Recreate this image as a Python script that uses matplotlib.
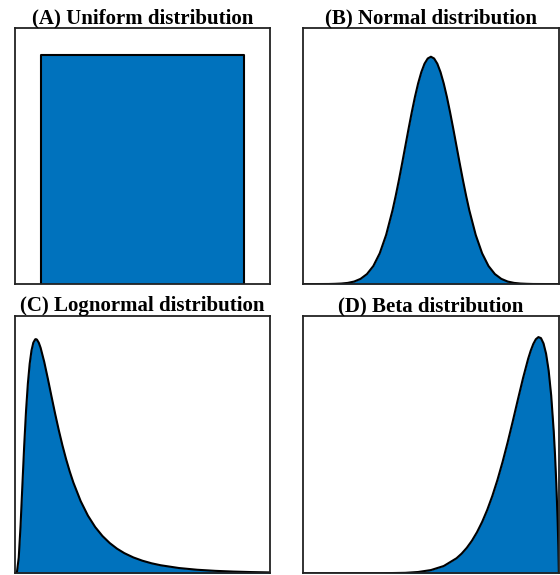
import matplotlib
matplotlib.use("Agg")
import matplotlib.pyplot as plt

# (A) uniform density on [0, 1]
uniform_x = [0, 0, 1, 1]
uniform_y = [0, 1, 1, 0]

# (B) normal density
normal_x = [-5.0, -4.5, -4.0, -3.75, -3.5, -3.25, -3.0, -2.75, -2.5, -2.25, -2.0,
            -1.75, -1.5, -1.375, -1.25, -1.125, -1.0, -0.875, -0.75, -0.625, -0.5,
            -0.375, -0.25, -0.125, 0.0, 0.125, 0.25, 0.375, 0.5, 0.625, 0.75, 0.875,
            1.0, 1.125, 1.25, 1.375, 1.5, 1.75, 2.0, 2.25, 2.5, 2.75, 3.0, 3.25, 3.5,
            3.75, 4.0, 4.5, 5.0]
normal_y = [0.0, 0.0, 0.0001, 0.0004, 0.0009, 0.0020, 0.0044, 0.0091, 0.0175, 0.0317,
            0.0540, 0.0863, 0.1295, 0.1550, 0.1826, 0.2119, 0.2420, 0.2721, 0.3011,
            0.3282, 0.3521, 0.3719, 0.3867, 0.3958, 0.3989, 0.3958, 0.3867, 0.3719,
            0.3521, 0.3282, 0.3011, 0.2721, 0.2420, 0.2119, 0.1826, 0.1550, 0.1295,
            0.0863, 0.0540, 0.0317, 0.0175, 0.0091, 0.0044, 0.0020, 0.0009, 0.0004,
            0.0001, 0.0, 0.0]

# (C) lognormal density
lognormal_x = [0.0, 0.05, 0.1, 0.15, 0.2, 0.25, 0.3, 0.35, 0.4, 0.45, 0.5, 0.55, 0.57,
               0.6, 0.65, 0.7, 0.8, 0.9, 1.0, 1.1, 1.2, 1.3, 1.4, 1.5, 1.6, 1.8, 2.0,
               2.2, 2.4, 2.6, 2.8, 3.0, 3.25, 3.5, 3.75, 4.0, 4.5, 5.0, 5.5, 6.0, 6.5,
               7.0]
lognormal_y = [0.0, 0.0037, 0.0478, 0.1447, 0.2660, 0.3855, 0.4888, 0.5705, 0.6305,
               0.6706, 0.6940, 0.7039, 0.7047, 0.7031, 0.6939, 0.6787, 0.6361, 0.5852,
               0.5319, 0.4797, 0.4304, 0.3849, 0.3436, 0.3064, 0.2732, 0.2174, 0.1735,
               0.1391, 0.1121, 0.0909, 0.0740, 0.0606, 0.0476, 0.0377, 0.0300, 0.0241,
               0.0158, 0.0106, 0.0073, 0.0051, 0.0036, 0.0026]

# (D) beta density, skewed to the right
beta_x = [0.0, 0.3, 0.4, 0.45, 0.5, 0.55, 0.6, 0.62, 0.64, 0.66, 0.68, 0.7, 0.72, 0.74,
          0.76, 0.78, 0.8, 0.82, 0.84, 0.86, 0.88, 0.89, 0.9, 0.91, 0.92, 0.93, 0.94,
          0.95, 0.96, 0.97, 0.98, 0.985, 0.99, 0.995, 0.998, 1.0]
beta_y = [0.0, 0.0005, 0.0090, 0.0256, 0.0642, 0.1452, 0.3009, 0.3937, 0.5091, 0.6508,
          0.8223, 1.0271, 1.2690, 1.5496, 1.8701, 2.2302, 2.6254, 3.0473, 3.4831,
          3.9094, 4.2967, 4.4583, 4.5922, 4.6868, 4.7296, 4.7091, 4.6027, 4.3965,
          4.0620, 3.5589, 2.8348, 2.3631, 1.7925, 1.0799, 0.5338, 0.0]

titles = ["(A) Uniform distribution", "(B) Normal distribution",
          "(C) Lognormal distribution", "(D) Beta distribution"]

FILL = "#0072BD"

fig = plt.figure(figsize=(5.6, 5.75), dpi=100)

boxes = [
    [0.027, 0.506, 0.455, 0.445],
    [0.541, 0.506, 0.457, 0.445],
    [0.027, 0.003, 0.455, 0.447],
    [0.541, 0.003, 0.457, 0.447],
]

series = [
    (uniform_x, uniform_y, (-0.125, 1.125), (0, 1.116)),
    (normal_x, normal_y, (-5, 5), (0, 0.449)),
    (lognormal_x, lognormal_y, (0, 7.0), (0, 0.7735)),
    (beta_x, beta_y, (0, 1), (0, 5.147)),
]

for box, (x, y, xl, yl), title in zip(boxes, series, titles):
    ax = fig.add_axes(box)
    ax.fill_between(x, y, 0, color=FILL, linewidth=0)
    ax.plot(x, y, color="black", linewidth=1.5, solid_joinstyle="round")
    ax.set_xlim(*xl)
    ax.set_ylim(*yl)
    ax.set_xticks([])
    ax.set_yticks([])
    for sp in ax.spines.values():
        sp.set_linewidth(1.3)
        sp.set_color("#222222")
    ax.set_title(title, fontsize=15, fontweight="bold", family="Liberation Serif", pad=3)

fig.savefig("out.png", dpi=100)
